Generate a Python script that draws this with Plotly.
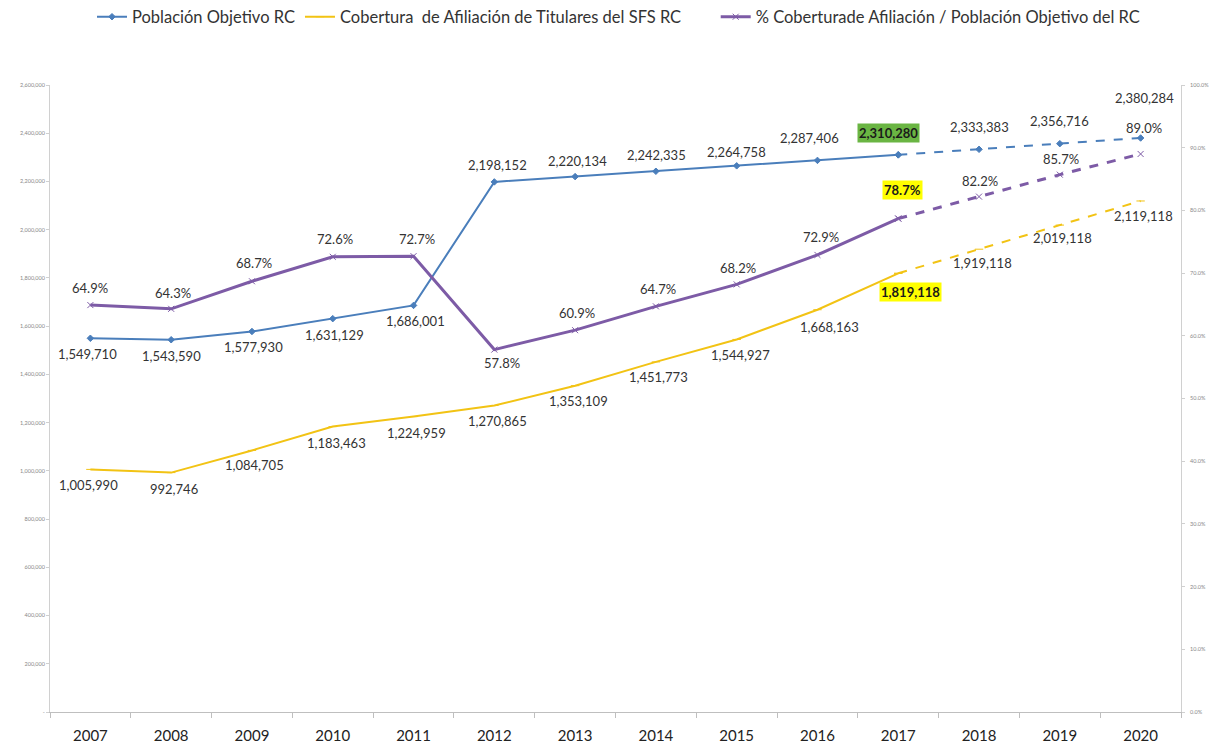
import plotly.graph_objects as go

years = [str(y) for y in range(2007, 2021)]
poblacion = [1549710, 1543590, 1577930, 1631129, 1686001, 2198152, 2220134,
             2242335, 2264758, 2287406, 2310280, 2333383, 2356716, 2380284]
cobertura = [1005990, 992746, 1084705, 1183463, 1224959, 1270865, 1353109,
             1451773, 1544927, 1668163, 1819118, 1919118, 2019118, 2119118]
porcentaje = [64.9, 64.3, 68.7, 72.6, 72.7, 57.8, 60.9, 64.7, 68.2, 72.9,
              78.7, 82.2, 85.7, 89.0]
left_ticks = list(range(0, 2600001, 200000))
left_ticktext = ["-"] + [f"{v:,}" for v in left_ticks[1:]]
right_ticks = [i / 10 for i in range(11)]

names = ["Población Objetivo RC",
         "Cobertura  de Afiliación de Titulares del SFS RC",
         "% Coberturade Afiliación / Población Objetivo del RC"]

BLUE = "#4A7EBB"
GOLD = "#F2C314"
PURPLE = "#7D5BA6"
split = years.index("2017")
PAD = "\u00a0" * 7  # trailing spacing in legend entry

fig = go.Figure()

def add_series(vals, color, width, symbol, msize, name, yaxis, dash):
    fig.add_trace(go.Scatter(
        x=years[:split + 1], y=vals[:split + 1], mode="lines+markers", name=name,
        line=dict(color=color, width=width),
        marker=dict(symbol=symbol, size=msize, color=color, line=dict(color=color, width=1)),
        yaxis=yaxis, hoverinfo="skip"))
    fig.add_trace(go.Scatter(
        x=years[split:], y=vals[split:], mode="lines+markers", showlegend=False,
        line=dict(color=color, width=width, dash=dash),
        marker=dict(symbol=symbol, size=msize, color=color, line=dict(color=color, width=1)),
        yaxis=yaxis, hoverinfo="skip"))

add_series(poblacion, BLUE, 2, "diamond", 5, names[0], "y", "dash")
add_series(cobertura, GOLD, 2, "line-ew", 6, names[1] + PAD, "y", "dash")
add_series([p / 100 for p in porcentaje], PURPLE, 3, "x-thin", 6, names[2], "y2", "dash")

# label offsets (pixels): (xshift, yshift)
blue_off = [(-3, -16), (0, -16), (2, -16), (2, -16), (2, -16),
            (3, 17), (2, 16), (1, 16), (0, 14), (-8, 22),
            (-10, 22), (0, 22), (0, 23), (4, 40)]
gold_off = [(-2, -16), (3, -16), (3, -15), (4, -16), (3, -16),
            (3, -15), (3, -15), (3, -15), (4, -16), (12, -17),
            (12, -19), (3, -14), (3, -13), (3, -15)]
purp_off = [(0, 17), (2, 16), (2, 18), (2, 18), (3, 17),
            (8, -13), (2, 17), (2, 17), (1, 16), (4, 18),
            (4, 29), (1, 16), (1, 16), (3, 26)]

LBL = dict(family="Lato, Open Sans, sans-serif", size=13, color="#333333")
LBLB = dict(family="Lato, Open Sans, sans-serif", size=13, color="#1a1a1a", weight="bold")

ann = []
for i, y in enumerate(years):
    hl = i == split
    specs = [
        (poblacion[i], "y", f"{poblacion[i]:,}", blue_off[i], "#6AB543"),
        (cobertura[i], "y", f"{cobertura[i]:,}", gold_off[i], "#FFFF00"),
        (porcentaje[i] / 100, "y2", f"{porcentaje[i]:.1f}%", purp_off[i], "#FFFF00"),
    ]
    for val, yr, txt, off, hlc in specs:
        a = dict(x=i, y=val, xref="x", yref=yr, text=txt, showarrow=False,
                 xshift=off[0], yshift=off[1], font=LBLB if hl else LBL, borderpad=1)
        if hl:
            a["bgcolor"] = hlc
        ann.append(a)

# page body adds an 8px offset; margins compensate
fig.update_layout(
    width=1225, height=744,
    margin=dict(l=42, r=52, t=77, b=40, autoexpand=False),
    paper_bgcolor="white", plot_bgcolor="white",
    font=dict(family="Lato, Open Sans, sans-serif", color="#333333"),
    showlegend=True,
    legend=dict(orientation="h", x=84 / 1225, y=1 - 9 / 744, xref="container", yref="container",
                xanchor="left", yanchor="middle",
                font=dict(size=16.5, color="#333333"), itemwidth=30,
                bgcolor="rgba(0,0,0,0)"),
    xaxis=dict(type="category", range=[-0.5, 13.5], showgrid=False,
               showline=True, linecolor="#BFBFBF", linewidth=1,
               ticks="outside", tickson="boundaries", ticklen=5, tickcolor="#BFBFBF",
               ticklabelstandoff=10,
               tickfont=dict(size=15, color="#222222"), zeroline=False),
    yaxis=dict(range=[0, 2600000], tickvals=left_ticks, ticktext=left_ticktext,
               showgrid=False, zeroline=False, showline=True, linecolor="#D0D0D0",
               ticks="outside", ticklen=3, tickcolor="#D0D0D0",
               tickfont=dict(size=5.5, color="#888888")),
    yaxis2=dict(range=[0, 1], tickvals=right_ticks, tickformat=".1%",
                overlaying="y", side="right", showgrid=False, zeroline=False,
                showline=True, linecolor="#D0D0D0", ticks="outside", ticklen=3,
                tickcolor="#D0D0D0", ticklabelstandoff=4,
                tickfont=dict(size=5.5, color="#888888")),
    annotations=ann,
)

fig.write_html("out.html")
